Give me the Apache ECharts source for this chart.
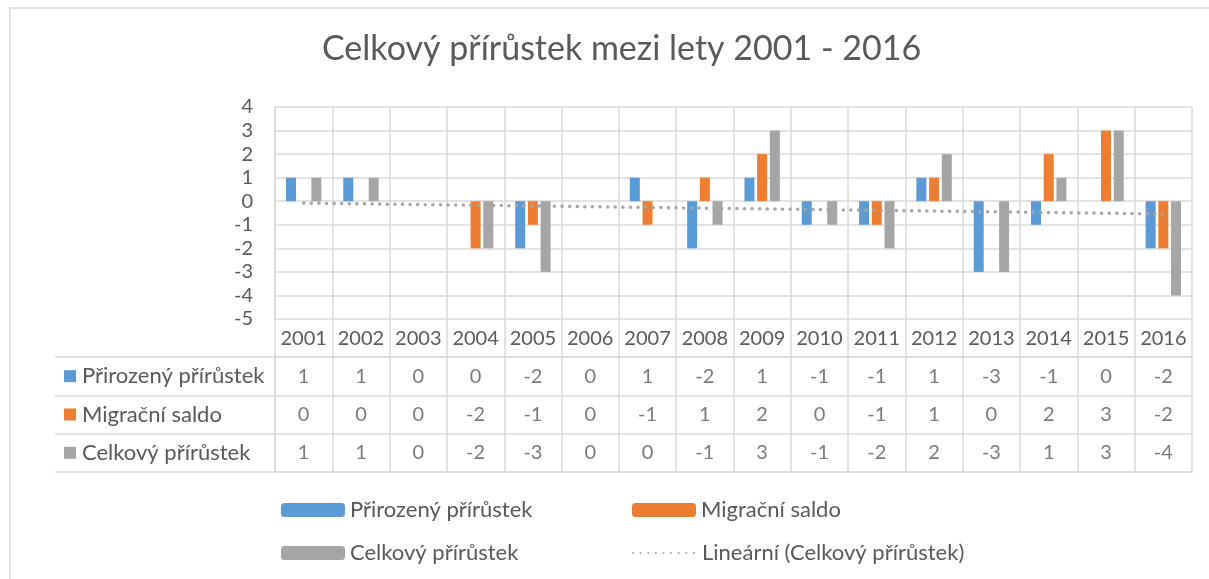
<!DOCTYPE html>
<html>
<head>
<meta charset="utf-8">
<script src="https://cdn.jsdelivr.net/npm/echarts@6/dist/echarts.min.js"></script>
<style>
  html, body { margin: 0; padding: 0; background: #fff; }
  #main { width: 1209px; height: 579px; }
</style>
</head>
<body>
<div id="main"></div>
<script>
var years = ['2001','2002','2003','2004','2005','2006','2007','2008','2009','2010','2011','2012','2013','2014','2015','2016']
var prirozeny = [1, 1, 0, 0, -2, 0, 1, -2, 1, -1, -1, 1, -3, -1, 0, -2]
var migracni = [0, 0, 0, -2, -1, 0, -1, 1, 2, 0, -1, 1, 0, 2, 3, -2]
var celkovy = [1, 1, 0, -2, -3, 0, 0, -1, 3, -1, -2, 2, -3, 1, 3, -4]
// linear trend of "Celkový přírůstek", read at first and last year
var trendYears = ['2001', '2016']
var trendValues = [-0.08, -0.54]

var names = ['Přirozený přírůstek', 'Migrační saldo', 'Celkový přírůstek']
var trendName = 'Lineární (Celkový přírůstek)'
var colors = ['#5B9BD5', '#ED7D31', '#A5A5A5']
var rows = [prirozeny, migracni, celkovy]

var font = 'Lato'
var txt = '#595959'
var grid = '#D9D9D9'

// table cells: [yearIndex, rowIndex, value]
var cells = []
rows.forEach(function (r, ri) {
  r.forEach(function (v, yi) { cells.push([yi, ri, v]) })
})

var myChart = echarts.init(document.getElementById('main'))

function barSeries (i, data) {
  return {
    name: names[i],
    type: 'bar',
    xAxisIndex: 0,
    yAxisIndex: 0,
    barWidth: 10,
    barGap: '27%',
    itemStyle: { color: colors[i] },
    data: data
  }
}

function legendAt (name, left, top) {
  return {
    data: [name],
    left: left,
    top: top,
    itemWidth: 64,
    itemHeight: 14,
    itemGap: 10,
    textStyle: { fontFamily: font, fontSize: 22, color: txt }
  }
}

var trendLegend = legendAt(trendName, 627, 537)
trendLegend.itemStyle = { opacity: 0 }

myChart.setOption({
  animation: false,
  title: {
    text: 'Celkový přírůstek mezi lety 2001 - 2016',
    left: 317,
    top: 27,
    textStyle: { fontFamily: font, fontSize: 34, fontWeight: 'normal', color: txt }
  },
  graphic: [{
    type: 'rect',
    shape: { x: 10, y: 8, width: 1300, height: 700 },
    style: { fill: 'none', stroke: grid, lineWidth: 1.5 }
  }],
  legend: [
    legendAt(names[0], 276, 494),
    legendAt(names[1], 627, 494),
    legendAt(names[2], 276, 537),
    trendLegend
  ],
  grid: [
    { left: 275, right: 17, top: 107, height: 212 },
    { left: 275, right: 17, top: 357, height: 115 }
  ],
  xAxis: [{
    type: 'category',
    gridIndex: 0,
    data: years,
    axisLine: { show: false, onZero: false },
    axisTick: { show: true, length: 38, interval: 0, lineStyle: { color: grid, width: 1.5 } },
    axisLabel: { fontFamily: font, fontSize: 20, color: txt, margin: 10, interval: 0 },
    splitLine: { show: true, interval: 0, lineStyle: { color: grid, width: 1.5 } }
  }, {
    type: 'category',
    gridIndex: 1,
    position: 'top',
    data: years,
    axisLine: { show: true, lineStyle: { color: grid, width: 1.5 } },
    axisTick: { show: false },
    axisLabel: { show: false },
    splitLine: { show: true, interval: 0, lineStyle: { color: grid, width: 1.5 } }
  }, {
    type: 'category',
    gridIndex: 1,
    position: 'bottom',
    data: years,
    axisLine: { show: true, lineStyle: { color: grid, width: 1.5 } },
    axisTick: { show: false },
    axisLabel: { show: false }
  }],
  yAxis: [{
    type: 'value',
    gridIndex: 0,
    min: -5,
    max: 4,
    interval: 1,
    axisLine: { show: true, lineStyle: { color: grid, width: 1.5 } },
    axisLabel: { fontFamily: font, fontSize: 20, color: txt, margin: 22 },
    splitLine: { lineStyle: { color: grid, width: 1.5 } }
  }, {
    type: 'category',
    gridIndex: 1,
    inverse: true,
    data: names,
    axisLine: { show: true, lineStyle: { color: grid, width: 1.5 } },
    axisTick: { show: true, length: 220, interval: 0, lineStyle: { color: grid, width: 1.5 } },
    splitLine: { show: true, interval: 0, lineStyle: { color: grid, width: 1.5 } },
    axisLabel: {
      align: 'left',
      margin: 211,
      interval: 0,
      formatter: function (v, i) { return '{s' + i + '|}{t|' + v + '}' },
      rich: {
        s0: { width: 12, height: 12, backgroundColor: colors[0] },
        s1: { width: 12, height: 12, backgroundColor: colors[1] },
        s2: { width: 12, height: 12, backgroundColor: colors[2] },
        t: { fontFamily: font, fontSize: 22, color: txt, padding: [0, 0, 0, 6] }
      }
    }
  }, {
    type: 'category',
    gridIndex: 1,
    inverse: true,
    data: names,
    offset: 220,
    axisLine: { show: true, lineStyle: { color: grid, width: 1.5 } },
    axisTick: { show: false },
    axisLabel: { show: false }
  }],
  series: [
    barSeries(0, prirozeny),
    barSeries(1, migracni),
    barSeries(2, celkovy),
    {
      name: trendName,
      type: 'line',
      xAxisIndex: 0,
      yAxisIndex: 0,
      symbol: 'none',
      z: 5,
      lineStyle: { color: '#A5A5A5', width: 3.5, type: [0.1, 7.5], cap: 'round' },
      itemStyle: { color: '#A5A5A5' },
      data: trendYears.map(function (y, i) { return [y, trendValues[i]] })
    },
    {
      name: 'tabulka',
      type: 'scatter',
      xAxisIndex: 1,
      yAxisIndex: 1,
      symbolSize: 0,
      silent: true,
      label: {
        show: true,
        position: 'inside',
        fontFamily: font,
        fontSize: 20,
        color: txt,
        formatter: function (p) { return String(p.value[2]) }
      },
      data: cells
    }
  ]
})
</script>
</body>
</html>
